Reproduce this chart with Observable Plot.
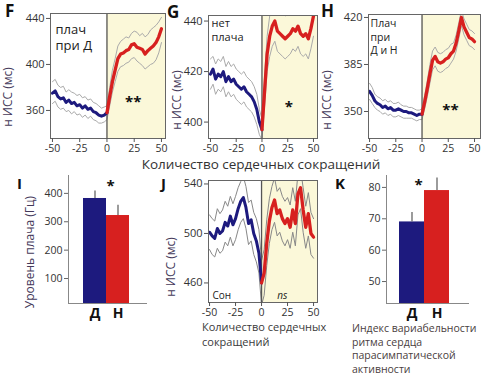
<!DOCTYPE html>
<html><head><meta charset="utf-8">
<script src="https://cdn.jsdelivr.net/npm/d3@7"></script>
<script src="https://cdn.jsdelivr.net/npm/@observablehq/plot@0.6"></script>
<style>
body{margin:0;background:#fff;}
#root{position:relative;width:500px;height:378px;overflow:hidden;font-family:"Open Sans",sans-serif;background:#fff;}
.p{position:absolute;}
.t{position:absolute;white-space:nowrap;line-height:1.15;}
.letter{font-weight:bold;font-size:17px;color:#111;font-family:"Open Sans",sans-serif;}
.yt{position:absolute;white-space:nowrap;font-size:12px;color:#45395a;transform:translate(-50%,-50%) rotate(-90deg);line-height:1.1;}
</style></head><body><div id="root"></div>
<script>
// ---- data ----
const beats = [-50,-47.5,-45,-42.5,-40,-37.5,-35,-32.5,-30,-27.5,-25,-22.5,-20,-17.5,-15,-12.5,-10,-7.5,-5,-2.5,0,2.5,5,7.5,10,12.5,15,17.5,20,22.5,25,27.5,30,32.5,35,37.5,40,42.5,45,47.5,50];
const xTicks = [-50,-25,0,25,50];

const fMean  = [375,377,372,370,371,367,369,366,367,364,365,362,364,361,362,359,358,356,355,356,358, 372,385,395,405,409,410,412,413,417,418,415,414,413,409,412,414,416,419,424,431];
const fUpper = [385,387,382,380,381,376,378,376,375,373,374,371,372,369,370,367,366,364,362,363,364, 380,395,405,416,420,422,424,423,427,429,428,425,427,424,426,430,432,434,437,441];
const fLower = [366,368,363,361,362,359,360,357,359,356,357,354,356,353,355,352,351,349,349,350,352, 364,376,385,394,398,399,401,402,405,406,403,401,399,396,398,400,401,404,410,419];
const fTicks = [360,400,440];

const gMean  = [419,421,417,419,418,420,416,418,416,417,415,414,413,414,412,411,410,408,405,400,397, 412,427,434,438,440,436,435,434,433,434,435,437,436,438,435,434,435,433,437,442];
const gUpper = [425,426,423,425,424,426,422,424,422,423,421,420,419,420,418,417,416,414,411,405,401, 418,434,442,446,448,445,444,443,442,443,444,446,445,447,444,443,444,442,446,450];
const gLower = [413,415,411,413,412,414,410,412,410,411,409,408,407,408,406,405,404,402,399,395,393, 406,420,426,430,432,428,427,426,425,426,427,429,428,430,427,426,427,425,429,434];
const gTicks = [400,420,440];

const hMean  = [365,362,358,356,355,353,354,352,353,351,351,352,351,350,350,349,349,348,347,348,348, 357,367,378,388,391,387,386,387,389,390,393,395,401,410,420,413,409,405,404,402];
const hUpper = [371,368,363,361,360,358,359,357,358,356,356,357,355,354,354,353,353,352,351,351,352, 362,373,385,395,398,394,393,394,396,397,400,401,407,416,425,419,415,411,410,408];
const hLower = [359,356,353,351,350,348,349,347,348,346,346,347,346,345,345,345,345,344,343,344,344, 352,361,371,381,384,380,379,380,382,383,386,389,395,404,414,407,403,399,398,396];
const hTicks = [350,385,420];

const jMean  = [501,498,496,504,500,502,509,506,514,507,512,520,526,529,521,508,511,500,494,484,460, 468,492,510,521,527,516,519,512,508,512,505,519,508,532,537,519,505,516,500,497];
const jUpper = [515,512,510,520,516,519,526,522,530,524,530,537,542,546,538,525,527,517,512,503,478, 487,511,528,538,545,534,537,530,526,529,523,537,526,548,552,537,522,533,517,512];
const jLower = [487,483,481,488,484,486,493,490,497,490,495,503,509,512,504,491,494,483,477,468,442, 450,474,492,503,509,498,501,494,490,495,488,501,490,515,520,501,488,498,483,480];
const jTicks = [460,500,540];

const cats = ["Д","Н"];
const cryLevel = [382,322];
const cryErr   = [408,358];
const cryTicks = [100,200,300,400];
const hrvIndex = [69,79];
const hrvErr   = [72,83];
const hrvTicks = [50,60,70,80];

// ---- style ----
const BLUE = "#1d1a7e", RED = "#d7201f", SHADE = "#fbf8d9";
const root = document.getElementById("root");
const fmt = d => String(d);

function place(svg, left, top){
  const d = document.createElement("div");
  d.className = "p"; d.style.left = left+"px"; d.style.top = top+"px";
  d.appendChild(svg); root.appendChild(d);
}
function txt(html, cls, css){
  const d = document.createElement("div");
  d.className = cls; d.innerHTML = html; Object.assign(d.style, css); root.appendChild(d);
}

function linePanel(o){
  const rows = beats.map((b,i)=>({b, m:o.mean[i], u:o.upper[i], l:o.lower[i]}));
  const pre = rows.filter(r=>r.b<=0), post = rows.filter(r=>r.b>=0);
  const marks = [
    Plot.rect([o.xd], {x1:0, x2:d=>d[1], y1:o.yd[0], y2:o.yd[1], fill:SHADE}),
    Plot.line(rows, {x:"b", y:"u", stroke:o.band, strokeWidth:1, clip:true}),
    Plot.line(rows, {x:"b", y:"l", stroke:o.band, strokeWidth:1, clip:true}),
    Plot.ruleX([0], {stroke:"#555", strokeWidth:1.3}),
    Plot.line(pre, {x:"b", y:"m", stroke:BLUE, strokeWidth:3, clip:true}),
    Plot.line(post, {x:"b", y:"m", stroke:RED, strokeWidth:3.3, clip:true}),
    Plot.frame({stroke:"#666"}),
    Plot.axisX({ticks:xTicks, tickSize:4, tickPadding:2, tickFormat:fmt, label:null, fontSize:10.5, fill:"#333", stroke:"#555"}),
    Plot.axisY({ticks:o.yticks, tickSize:4, tickPadding:2, tickFormat:fmt, label:null, fontSize:11, fill:"#333", stroke:"#555"}),
    ...o.extra
  ];
  const svg = Plot.plot({
    width:o.w, height:o.h, marginLeft:o.ml, marginRight:o.mr, marginTop:o.mt, marginBottom:o.mb,
    style:{fontFamily:"Open Sans, sans-serif", background:"transparent", overflow:"visible", color:"#333"},
    x:{domain:o.xd}, y:{domain:o.yd},
    marks
  });
  place(svg, o.left, o.top);
}

function barPanel(o){
  const rows = cats.map((c,i)=>({c, v:o.vals[i], hi:o.hi[i]}));
  const svg = Plot.plot({
    width:o.w, height:o.h, marginLeft:o.ml, marginRight:o.mr, marginTop:o.mt, marginBottom:o.mb,
    style:{fontFamily:"Open Sans, sans-serif", background:"transparent", overflow:"visible", color:"#333"},
    x:{domain:cats, paddingInner:0, paddingOuter:o.po, align:o.al},
    y:{domain:o.yd},
    color:{domain:cats, range:[BLUE, RED]},
    marks:[
      Plot.barY(rows, {x:"c", y:"v", fill:"c", clip:true}),
      Plot.ruleX(rows, {x:"c", y1:"v", y2:"hi", stroke:"#666", strokeWidth:1.3}),
      Plot.frame({anchor:"left", stroke:"#888"}),
      Plot.frame({anchor:"bottom", stroke:"#888"}),
      Plot.axisY({ticks:o.yticks, tickSize:4, tickPadding:2, tickFormat:fmt, label:null, fontSize:10.5, fill:"#333", stroke:"#666"}),
      Plot.axisX({tickSize:0, tickPadding:5, label:null, fontSize:14, fontWeight:"bold", fill:"#111"}),
      Plot.text(["*"], {frameAnchor:"top", lineAnchor:"middle", dx:o.sdx, dy:o.sdy, fontSize:15, fontWeight:"bold", fill:"#111"})
    ]
  });
  place(svg, o.left, o.top);
}

// F
linePanel({left:0, top:0, w:168, h:160, ml:50, mr:3, mt:13, mb:22,
  xd:[-51.8,53.7], yd:[335.6,444.3], yticks:fTicks, mean:fMean, upper:fUpper, lower:fLower, band:"#aaa",
  extra:[
    Plot.text(["плач\nпри Д"], {frameAnchor:"top-left", dx:5, dy:8, fontSize:13, lineHeight:1.3, fill:"#222"}),
    Plot.text(["**"], {x:24, y:370, fontSize:15, fontWeight:"bold", fill:"#111", dy:3})
  ]});
// G
linePanel({left:160, top:0, w:160, h:160, ml:48, mr:3, mt:15, mb:22,
  xd:[-51.9,53.9], yd:[393.5,442.2], yticks:gTicks, mean:gMean, upper:gUpper, lower:gLower, band:"#aaa",
  extra:[
    Plot.text(["нет\nплача"], {frameAnchor:"top-left", dx:3, dy:2, fontSize:11, lineHeight:1.25, fill:"#222"}),
    Plot.text(["*"], {x:26, y:407, fontSize:15, fontWeight:"bold", fill:"#111", dy:3})
  ]});
// H
linePanel({left:320, top:0, w:180, h:160, ml:48, mr:20, mt:14, mb:22,
  xd:[-51,55.7], yd:[329.9,422.2], yticks:hTicks, mean:hMean, upper:hUpper, lower:hLower, band:"#aaa",
  extra:[
    Plot.text(["Плач\nпри\nД и Н"], {frameAnchor:"top-left", dx:2, dy:3, fontSize:10.5, lineHeight:1.3, fill:"#222"}),
    Plot.text(["**"], {x:27, y:353, fontSize:15, fontWeight:"bold", fill:"#111", dy:3})
  ]});
// J
linePanel({left:160, top:160, w:160, h:160, ml:48, mr:3, mt:20, mb:18,
  xd:[-51,53.8], yd:[444.2,542.8], yticks:jTicks, mean:jMean, upper:jUpper, lower:jLower, band:"#888",
  extra:[
    Plot.text(["Сон"], {frameAnchor:"bottom-left", lineAnchor:"bottom", dx:4, dy:-4, fontSize:10, fill:"#222"}),
    Plot.text(["ns"], {x:20, frameAnchor:"bottom", lineAnchor:"bottom", dy:-4, fontSize:10, fontStyle:"italic", fill:"#222"})
  ]});
// I
barPanel({left:0, top:160, w:160, h:170, ml:68, mr:14, mt:15, mb:27,
  po:0.66, al:0.48, yd:[12,463], yticks:cryTicks, vals:cryLevel, hi:cryErr, sdx:3, sdy:11});
// K
barPanel({left:320, top:160, w:180, h:170, ml:66, mr:32, mt:15, mb:27,
  po:0.61, al:0.42, yd:[43,83.8], yticks:hrvTicks, vals:hrvIndex, hi:hrvErr, sdx:-9, sdy:10});

// letters
txt("F","t letter",{left:"5px",top:"2px",lineHeight:"1"});
txt("G","t letter",{left:"167px",top:"3px",lineHeight:"1"});
txt("H","t letter",{left:"321px",top:"2px",lineHeight:"1"});
txt("I","t letter",{left:"17px",top:"176px",fontSize:"15px",lineHeight:"1"});
txt("J","t letter",{left:"161px",top:"176px",fontSize:"15px",lineHeight:"1"});
txt("K","t letter",{left:"335px",top:"176px",fontSize:"15px",lineHeight:"1"});

// y titles
txt("н ИСС (мс)","yt",{left:"8px",top:"97px"});
txt("н ИСС (мс)","yt",{left:"177px",top:"100px"});
txt("н ИСС (мс)","yt",{left:"327px",top:"100px"});
txt("н ИСС (мс)","yt",{left:"171px",top:"267px"});
txt("Уровень плача (Гц)","yt",{left:"30px",top:"252px"});

// x titles / captions
txt("Количество сердечных сокращений","t",{left:"261px",top:"165px",fontSize:"13.5px",color:"#333",transform:"translate(-50%,-50%)"});
txt("Количество сердечных<br>сокращений","t",{left:"202px",top:"319px",fontSize:"11px",color:"#3a3a3a",lineHeight:"15px"});
txt("Индекс вариабельности<br>ритма сердца<br>парасимпатической<br>активности","t",{left:"352px",top:"322px",fontSize:"10.5px",color:"#4a4040",lineHeight:"13.5px"});
</script>
</body></html>
